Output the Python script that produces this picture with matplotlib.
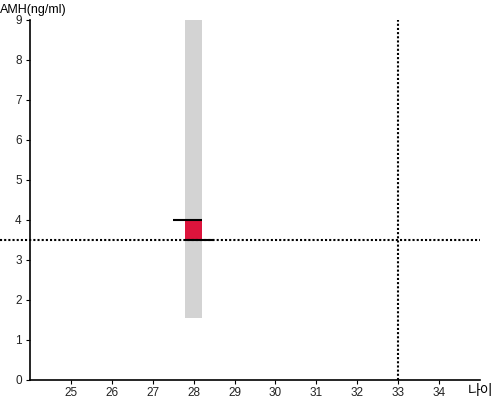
import matplotlib
matplotlib.use("Agg")
import matplotlib.pyplot as plt
from matplotlib.patches import Rectangle

plt.rcParams['font.family'] = ['Liberation Sans', 'Noto Sans CJK KR', 'DejaVu Sans']

# data
x_ticks = [25, 26, 27, 28, 29, 30, 31, 32, 33, 34]
y_ticks = [0, 1, 2, 3, 4, 5, 6, 7, 8, 9]
age = 28
band_low, band_high = 1.55, 9.0
box_low, box_high = 3.5, 4.0
ref_amh = 3.5
ref_age = 33
x_range = (24, 35)
y_range = (0, 9)

fig = plt.figure(figsize=(5, 4), dpi=100)
ax = fig.add_axes([0.06, 0.05, 0.90, 0.90])
ax.set_xlim(*x_range)
ax.set_ylim(*y_range)

half = 0.2
# gray range band
ax.add_patch(Rectangle((age - half, band_low), 2 * half, band_high - band_low,
                       facecolor="#d3d3d3", edgecolor="none", zorder=1))
# red box
ax.add_patch(Rectangle((age - half, box_low), 2 * half, box_high - box_low,
                       facecolor="#dc143c", edgecolor="none", zorder=2))
ax.plot([age - 0.5, age + half], [box_high, box_high], color="black", lw=1.5, zorder=3,
        solid_capstyle="butt")
ax.plot([age - half, age + 0.5], [box_low, box_low], color="black", lw=1.5, zorder=3,
        solid_capstyle="butt")

# reference lines
ax.plot([x_range[0] - 0.74, x_range[1]], [ref_amh, ref_amh], color="black", lw=1.5,
        linestyle=(0, (1, 1)), clip_on=False, zorder=2)
ax.plot([ref_age, ref_age], [y_range[0], y_range[1]], color="black", lw=1.5,
        linestyle=(0, (1, 1)), zorder=2)

for s in ["top", "right"]:
    ax.spines[s].set_visible(False)
for s in ["left", "bottom"]:
    ax.spines[s].set_linewidth(1.2)

ax.set_xticks(x_ticks)
ax.set_yticks(y_ticks)
ax.tick_params(length=3, width=0.8, labelsize=8.5, labelcolor="#222222", pad=3)
ax.tick_params(axis="x", pad=2)

fig.text(0.0, 0.975, "AMH(ng/ml)", fontsize=9, va="center", ha="left")
fig.text(0.986, 0.022, "나이", fontsize=10, va="center", ha="right",
         family=['Noto Sans CJK KR', 'DejaVu Sans'])

fig.savefig("out.png", dpi=100)
